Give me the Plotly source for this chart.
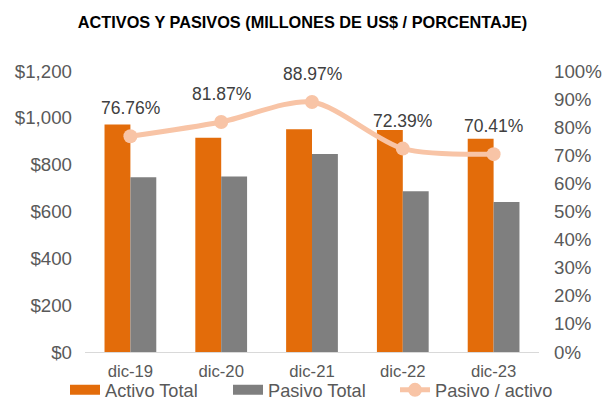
import plotly.graph_objects as go

categories = ["dic-19", "dic-20", "dic-21", "dic-22", "dic-23"]
activo_total = [972, 915, 951, 948, 911]
pasivo_total = [746, 749, 846, 686, 641]
pasivo_activo = [76.76, 81.87, 88.97, 72.39, 70.41]
left_ticks = [0, 200, 400, 600, 800, 1000, 1200]
right_ticks = list(range(0, 101, 10))

FONT = "Liberation Sans, Arial, sans-serif"
TXT = "#595959"
ORANGE = "#E36C0A"
GRAY = "#7F7F7F"
PEACH = "#F8C4A6"

fig = go.Figure()
fig.add_trace(go.Bar(x=categories, y=activo_total, name="Activo Total",
                     marker=dict(color=ORANGE, line=dict(width=0)), showlegend=False))
fig.add_trace(go.Bar(x=categories, y=pasivo_total, name="Pasivo Total",
                     marker=dict(color=GRAY, line=dict(width=0)), showlegend=False))
fig.add_trace(go.Scatter(x=categories, y=pasivo_activo, name="Pasivo / activo",
                         yaxis="y2", mode="lines+markers",
                         line=dict(color=PEACH, width=5, shape="spline", smoothing=0.8),
                         marker=dict(color=PEACH, size=14), showlegend=False))

# legend proxies (wide swatches like the original), one legend box each
fig.add_trace(go.Scatter(x=[None], y=[None], mode="lines", name="Activo Total",
                         line=dict(color=ORANGE, width=10), legend="legend"))
fig.add_trace(go.Scatter(x=[None], y=[None], mode="lines", name="Pasivo Total",
                         line=dict(color=GRAY, width=10), legend="legend2"))
fig.add_trace(go.Scatter(x=[None], y=[None], mode="lines+markers", name="Pasivo / activo",
                         line=dict(color=PEACH, width=5), marker=dict(color=PEACH, size=14),
                         legend="legend3"))

for c, v in zip(categories, pasivo_activo):
    fig.add_annotation(x=c, y=v, yref="y2", text=f"{v:.2f}%", showarrow=False,
                       yshift=28, font=dict(family=FONT, size=17.5, color="#404040"))


def leg(xpx):
    return dict(orientation="h", xref="container", yref="container",
                x=xpx / 605, xanchor="left", y=1 - 390 / 401, yanchor="middle",
                font=dict(family=FONT, size=18.2, color=TXT), bgcolor="rgba(0,0,0,0)",
                itemwidth=30, tracegroupgap=0)


fig.update_layout(
    width=605, height=401,
    margin=dict(l=84.5, r=65.5, t=71, b=49, autoexpand=False),
    paper_bgcolor="white", plot_bgcolor="white",
    barmode="group", bargap=0.43, bargroupgap=0,
    title=dict(text="<b>ACTIVOS Y PASIVOS (MILLONES DE US$ / PORCENTAJE)</b>",
               x=0.5, xanchor="center", y=1 - 22 / 401, yanchor="middle",
               font=dict(family=FONT, size=16.3, color="black")),
    font=dict(family=FONT, size=16, color=TXT),
    showlegend=True,
    legend=leg(65), legend2=leg(228), legend3=leg(395),
    xaxis=dict(showline=True, linecolor="#D9D9D9", linewidth=1, ticks="",
               tickfont=dict(family=FONT, size=16.7, color=TXT), showgrid=False,
               ticklabelstandoff=4),
    yaxis=dict(range=[0, 1200], tickvals=left_ticks,
               ticktext=[f"${v:,}" for v in left_ticks],
               showgrid=False, zeroline=False, showline=False, ticks="",
               tickfont=dict(family=FONT, size=18.7, color=TXT), ticklabelstandoff=12),
    yaxis2=dict(range=[0, 100], tickvals=right_ticks,
                ticktext=[f"{v}%" for v in right_ticks],
                overlaying="y", side="right", showgrid=False, zeroline=False,
                showline=False, ticks="",
                tickfont=dict(family=FONT, size=18.7, color=TXT), ticklabelstandoff=14),
)

fig.write_html("out.html", config={"displayModeBar": False},
               post_script="document.body.style.margin='0';")
